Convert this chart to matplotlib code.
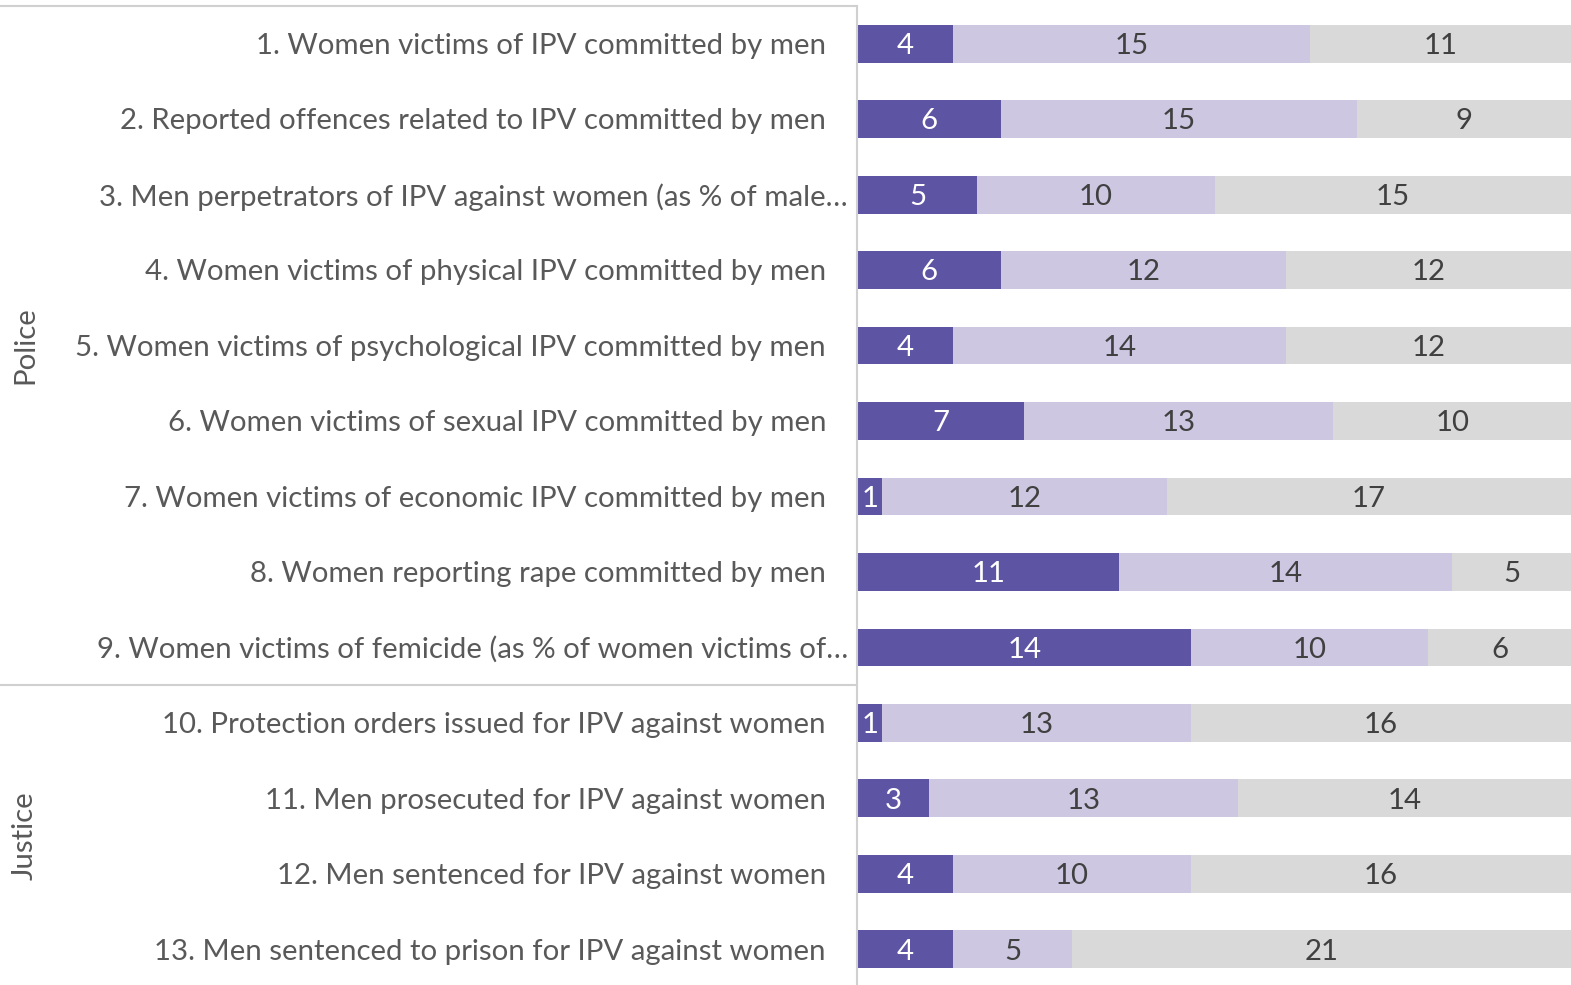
import numpy as np
import matplotlib.pyplot as plt
from matplotlib.transforms import blended_transform_factory

labels = [
    "1. Women victims of IPV committed by men",
    "2. Reported offences related to IPV committed by men",
    "3. Men perpetrators of IPV against women (as % of male\u2026",
    "4. Women victims of physical IPV committed by men",
    "5. Women victims of psychological IPV committed by men",
    "6. Women victims of sexual IPV committed by men",
    "7. Women victims of economic IPV committed by men",
    "8. Women reporting rape committed by men",
    "9. Women victims of femicide (as % of women victims of\u2026",
    "10. Protection orders issued for IPV against women",
    "11. Men prosecuted for IPV against women",
    "12. Men sentenced for IPV against women",
    "13. Men sentenced to prison for IPV against women",
]
groups = ["Police", "Justice"]
group_sizes = [9, 4]

seg1 = [4, 6, 5, 6, 4, 7, 1, 11, 14, 1, 3, 4, 4]
seg2 = [15, 15, 10, 12, 14, 13, 12, 14, 10, 13, 13, 10, 5]
seg3 = [11, 9, 15, 12, 12, 10, 17, 5, 6, 16, 14, 16, 21]

colors = ["#5E54A4", "#CDC7E2", "#D9D9D9"]
txt_colors = ["white", "#404040", "#404040"]
line_c = "#D0D0D0"
font = "Lato"
fs = 21.2

W, H = 1571, 985
fig = plt.figure(figsize=(W / 100, H / 100), dpi=100)
ax = fig.add_axes([858 / W, -2 / H, (1571 - 858) / W, 981 / H])

y = np.arange(len(labels))
left = np.zeros(len(labels))
for vals, c, tc in zip([seg1, seg2, seg3], colors, txt_colors):
    vals = np.array(vals)
    ax.barh(y, vals, left=left, height=0.5, color=c)
    for yi, l, v in zip(y, left, vals):
        ax.text(l + v / 2, yi + 0.03, str(v), ha="center", va="center",
                color=tc, fontsize=fs, family=font)
    left += vals

ax.set_xlim(0, 30)
ax.set_ylim(len(labels) - 0.5, -0.5)
ax.axis("off")

tr = blended_transform_factory(fig.transFigure, ax.transData)
for yi, lab in zip(y, labels):
    xr = 848 if lab.endswith("\u2026") else 826
    ax.text(xr / W, yi + 0.03, lab, transform=tr, ha="right", va="center",
            color="#595959", fontsize=fs, family=font)

# group labels and separators
start = 0
for g, n in zip(groups, group_sizes):
    mid = start + (n - 1) / 2
    ax.text(25 / W, mid, g, transform=tr, rotation=90, ha="center",
            va="center", color="#595959", fontsize=fs, family=font)
    ax.plot([0, 857 / W], [start - 0.5, start - 0.5], transform=tr,
            color=line_c, lw=1.5, clip_on=False)
    start += n
ax.plot([857 / W, 857 / W], [-0.5, len(labels) - 0.5], transform=tr,
        color=line_c, lw=1.5, clip_on=False)

fig.savefig("out.png", dpi=100)
